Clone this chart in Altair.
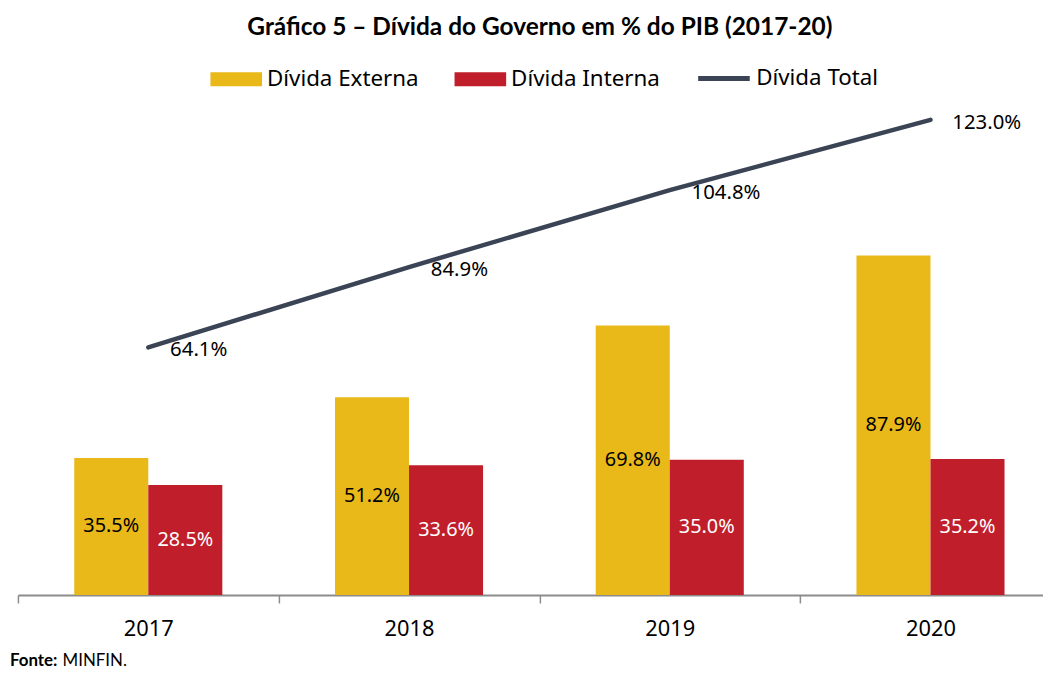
import altair as alt
import pandas as pd

ANOS = ["2017", "2018", "2019", "2020"]
EXTERNA = [35.5, 51.2, 69.8, 87.9]
INTERNA = [28.5, 33.6, 35.0, 35.2]
TOTAL = [64.1, 84.9, 104.8, 123.0]
SERIES_BARRAS = ["Dívida Externa", "Dívida Interna"]
SERIE_LINHA = "Dívida Total"
TITULO = "Gráfico 5 – Dívida do Governo em % do PIB (2017-20)"
FONTE_ROTULO = ["Fonte:"]
FONTE_TEXTO = ["MINFIN."]

YELLOW = "#E8B919"
RED = "#C01E2B"
DARK = "#3A4455"
FONT = "Noto Sans"

barras = pd.DataFrame({
    "ano": ANOS * 2,
    "serie": [SERIES_BARRAS[0]] * len(ANOS) + [SERIES_BARRAS[1]] * len(ANOS),
    "valor": EXTERNA + INTERNA,
})
linha = pd.DataFrame({"ano": ANOS, "serie": SERIE_LINHA, "valor": TOTAL})

W, H = 1030, 510

x = alt.X(
    "ano:N", sort=ANOS,
    scale=alt.Scale(range=[0, 1051], paddingInner=0, paddingOuter=0),
    axis=alt.Axis(title=None, labelAngle=0, tickBand="extent", labelFont=FONT,
                  labelFontSize=22, labelColor="black", labelPadding=16,
                  domainColor="#8C8C8C", domainWidth=2, tickColor="#8C8C8C",
                  tickWidth=1.5, tickSize=8, grid=False),
)
y_scale = alt.Scale(domain=[0, 131], nice=False)
xo = alt.XOffset("serie:N", sort=SERIES_BARRAS,
                 scale=alt.Scale(paddingInner=0, paddingOuter=0.761))

bars = alt.Chart(barras).mark_bar().encode(
    x=x,
    xOffset=xo,
    y=alt.Y("valor:Q", scale=y_scale, axis=None),
    color=alt.Color(
        "serie:N",
        scale=alt.Scale(domain=SERIES_BARRAS, range=[YELLOW, RED]),
        legend=alt.Legend(
            title=None, orient="none", legendX=194, legendY=-36,
            direction="horizontal", symbolType="M-1,-0.27H1V0.27H-1Z",
            symbolSize=2704, symbolStrokeWidth=0, labelFont=FONT,
            labelFontSize=22.5, labelColor="black", labelOffset=5,
            columnPadding=36, padding=0,
        ),
    ),
)

base_lab = alt.Chart(barras).transform_calculate(
    meio="datum.valor / 2",
    rotulo="format(datum.valor, '.1f') + '%'",
)
lab_ext = base_lab.transform_filter(
    alt.datum.serie == SERIES_BARRAS[0]
).mark_text(font=FONT, fontSize=20, color="black", baseline="middle").encode(
    x=x, xOffset=xo, y=alt.Y("meio:Q", scale=y_scale, axis=None), text="rotulo:N"
)
lab_int = base_lab.transform_filter(
    alt.datum.serie == SERIES_BARRAS[1]
).mark_text(font=FONT, fontSize=20, color="white", baseline="middle").encode(
    x=x, xOffset=xo, y=alt.Y("meio:Q", scale=y_scale, axis=None), text="rotulo:N"
)

line = alt.Chart(linha).mark_line(strokeWidth=4.5, strokeCap="round").encode(
    x=x,
    y=alt.Y("valor:Q", scale=y_scale, axis=None),
    stroke=alt.Stroke(
        "serie:N",
        scale=alt.Scale(domain=[SERIE_LINHA], range=[DARK]),
        legend=alt.Legend(
            title=None, orient="none", legendX=683, legendY=-39,
            symbolType="stroke", symbolSize=2704, symbolStrokeWidth=5,
            labelFont=FONT, labelFontSize=22.5, labelColor="black",
            labelOffset=4, padding=0,
        ),
    ),
)
line_lab = alt.Chart(linha).transform_calculate(
    rotulo="format(datum.valor, '.1f') + '%'"
).mark_text(font=FONT, fontSize=20.5, color="black", align="left",
            baseline="middle", dx=22, dy=3).encode(
    x=x, y=alt.Y("valor:Q", scale=y_scale, axis=None), text="rotulo:N"
)

fonte1 = alt.Chart(pd.DataFrame({"t": FONTE_ROTULO})).mark_text(
    font="Lato", fontSize=17, fontWeight="bold", color="black",
    align="left", baseline="alphabetic"
).encode(x=alt.value(-8), y=alt.value(H + 72), text="t:N")
fonte2 = alt.Chart(pd.DataFrame({"t": FONTE_TEXTO})).mark_text(
    font="Lato", fontSize=17, color="black", align="left", baseline="alphabetic"
).encode(x=alt.value(45), y=alt.value(H + 72), text="t:N")

chart = alt.layer(bars, lab_ext, lab_int, line, line_lab, fonte1, fonte2).properties(
    width=W,
    height=H,
    title=alt.Title(TITULO, font="Lato", fontSize=24.6, fontWeight="bold",
                    color="black", anchor="middle", dx=11, offset=10),
    padding={"left": 10, "top": 79, "right": 3, "bottom": 76},
    autosize="none",
    background="white",
).configure_view(stroke="transparent", strokeWidth=0)

chart.save("out.html", embed_options={"renderer": "svg", "actions": False})
